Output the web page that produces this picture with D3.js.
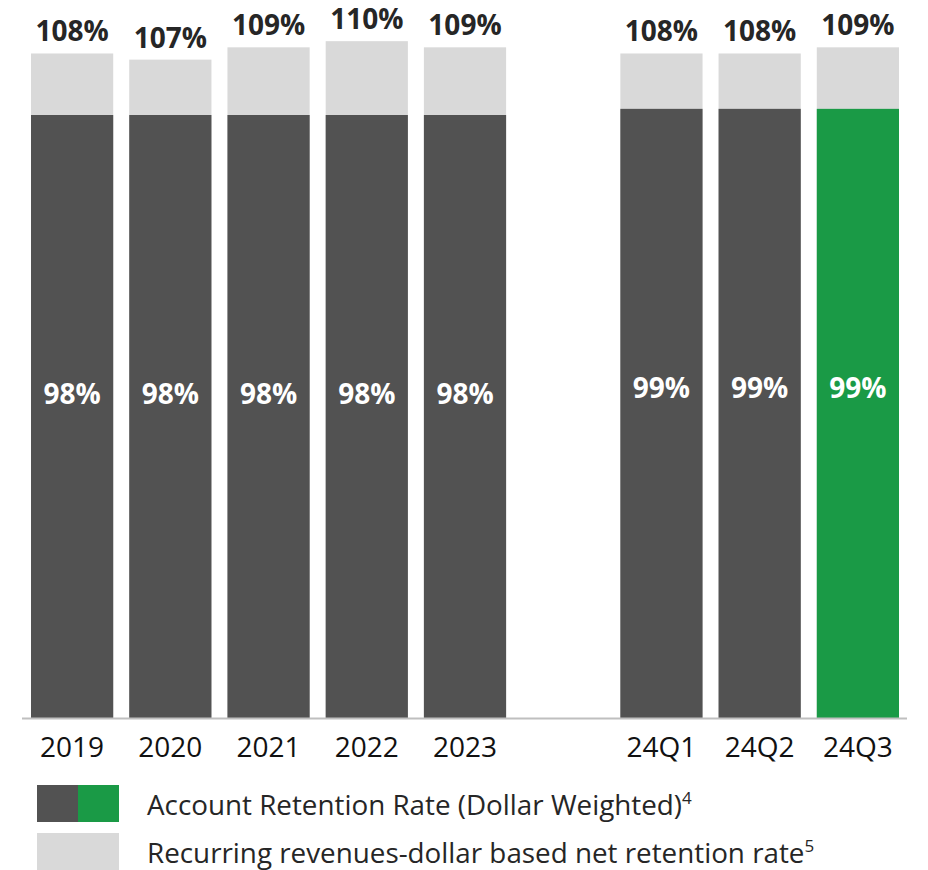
<!DOCTYPE html>
<html>
<head>
<meta charset="utf-8">
<script src="https://cdn.jsdelivr.net/npm/d3@7"></script>
<style>
  html, body { margin: 0; padding: 0; background: #ffffff; }
  svg { display: block; font-family: "Open Sans", "Noto Sans", sans-serif; }
</style>
</head>
<body>
<svg id="chart" width="928" height="870"></svg>
<script>
// ---- data ----
const categories = ["2019", "2020", "2021", "2022", "2023", "24Q1", "24Q2", "24Q3"];
const accountRetention = [98, 98, 98, 98, 98, 99, 99, 99];          // dark / green bars
const netRetention = [108, 107, 109, 110, 109, 108, 108, 109];       // light grey bars
const highlighted = ["24Q3"];
const legendLabels = ["Account Retention Rate (Dollar Weighted)", "Recurring revenues-dollar based net retention rate"];
const legendNotes = ["4", "5"];

// ---- layout ----
const slots = ["2019", "2020", "2021", "2022", "2023", "__gap__", "24Q1", "24Q2", "24Q3"];
const colDark = "#525252", colGreen = "#1a9a46", colLight = "#d9d9d9", colText = "#262626";

const svg = d3.select("#chart");

const x = d3.scaleBand().domain(slots).range([23, 907]).paddingInner(0.163).paddingOuter(0.0815);
const y = d3.scaleLinear().domain([0, 110]).range([718, 718 - 110 * 6.153]);

const rows = categories.map((c, i) => ({ cat: c, acc: accountRetention[i], net: netRetention[i] }));

// light bars (net retention)
svg.append("g").selectAll("rect").data(rows).join("rect")
  .attr("x", d => x(d.cat)).attr("width", x.bandwidth())
  .attr("y", d => y(d.net)).attr("height", d => y(0) - y(d.net))
  .attr("fill", colLight);

// dark bars (account retention)
svg.append("g").selectAll("rect").data(rows).join("rect")
  .attr("x", d => x(d.cat)).attr("width", x.bandwidth())
  .attr("y", d => y(d.acc)).attr("height", d => y(0) - y(d.acc))
  .attr("fill", d => highlighted.includes(d.cat) ? colGreen : colDark);

// top labels
svg.append("g").selectAll("text").data(rows).join("text")
  .attr("x", d => x(d.cat) + x.bandwidth() / 2)
  .attr("y", d => y(d.net) - 12)
  .attr("text-anchor", "middle")
  .attr("font-size", 28).attr("font-weight", 700).attr("fill", colText)
  .text(d => d.net + "%");

// inner labels
svg.append("g").selectAll("text").data(rows).join("text")
  .attr("x", d => x(d.cat) + x.bandwidth() / 2)
  .attr("y", d => y(d.acc) + 289)
  .attr("text-anchor", "middle")
  .attr("font-size", 28).attr("font-weight", 700).attr("fill", "#ffffff")
  .text(d => d.acc + "%");

// axis
const axis = d3.axisBottom(x).tickSize(0).tickPadding(0).tickFormat(d => d === "__gap__" ? "" : d);
const gAxis = svg.append("g").attr("transform", `translate(0,${y(0)})`).call(axis);
gAxis.select(".domain").attr("d", "M22,0.5H907").attr("stroke", "#bfbfbf").attr("stroke-width", 2);
gAxis.selectAll(".tick text")
  .attr("dy", null).attr("y", 39)
  .attr("font-family", "'Open Sans', sans-serif")
  .attr("font-size", 28).attr("fill", "#111111");

// legend
const lg = svg.append("g");
const sw = 82, sh = 37;
// swatch 1: split dark / green
lg.append("rect").attr("x", 37).attr("y", 785).attr("width", sw / 2).attr("height", sh).attr("fill", colDark);
lg.append("rect").attr("x", 37 + sw / 2).attr("y", 785).attr("width", sw / 2).attr("height", sh).attr("fill", colGreen);
// swatch 2
lg.append("rect").attr("x", 37).attr("y", 833).attr("width", sw).attr("height", sh).attr("fill", colLight);

legendLabels.forEach((lab, i) => {
  const t = lg.append("text")
    .attr("x", 147).attr("y", 815 + i * 48)
    .attr("font-size", 27.8).attr("fill", colText);
  t.append("tspan").text(lab);
  t.append("tspan").attr("font-size", 17).attr("dy", -11).text(legendNotes[i]);
});
</script>
</body>
</html>
